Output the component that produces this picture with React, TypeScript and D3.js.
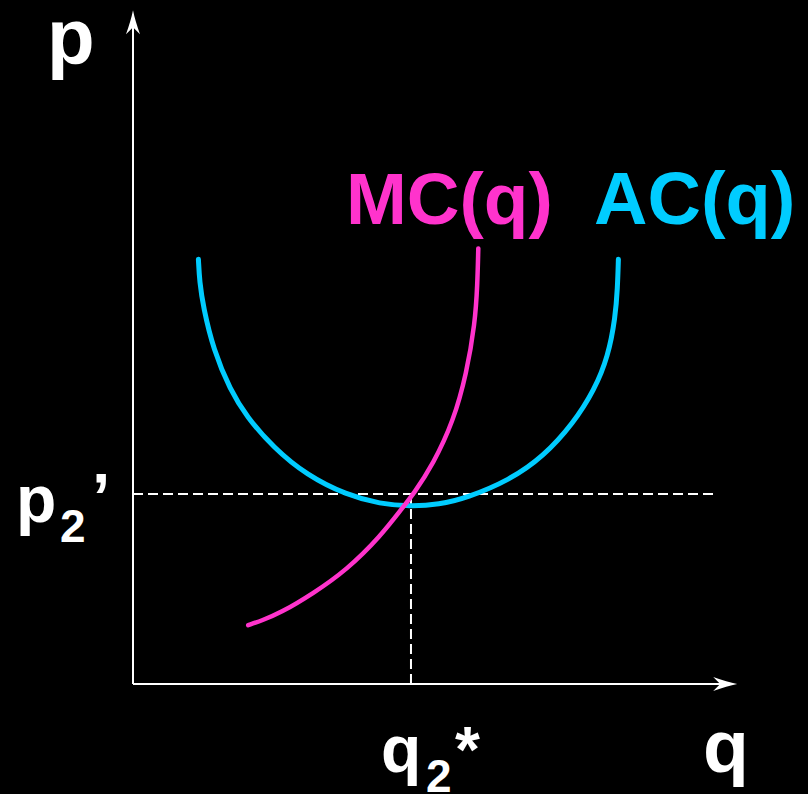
import React from "react";
import * as d3 from "d3";

// Data (in chart units: q and p on 0..100 scale)
const acQ = [10.9, 11.1, 11.7, 13.4, 16.2, 18.9, 23.4, 28.95, 35.6, 41.2, 46.2, 51.0, 55.6, 62.8, 68.4, 73.4, 76.9, 79.2, 80.4, 80.75, 80.9];
const acP = [70.8, 67.0, 62.9, 55.7, 49.0, 44.6, 39.4, 34.8, 31.5, 30.0, 29.6, 29.9, 31.0, 34.0, 37.9, 43.45, 49.0, 54.6, 61.2, 66.0, 70.8];
const mcQ = [19.2, 21.5, 24.5, 30.05, 35.6, 41.2, 45.05, 46.7, 50.05, 53.4, 55.6, 57.0, 57.4, 57.55];
const mcP = [9.8, 10.6, 11.8, 15.1, 19.0, 24.55, 29.55, 31.6, 36.7, 43.8, 51.8, 60.1, 66.5, 72.6];
const pStar = 31.67;
const qStar = 46.33;
const qAxisMax = 100.7;
const pAxisMax = 112.3;
const dashEndQ = 97.2;
const labels = { mc: "MC(q)", ac: "AC(q)", p: "p", q: "q" };

const W = 808;
const H = 794;
const FONT = "'Liberation Sans', Arial, Helvetica, sans-serif";
const CYAN = "#00CCFF";
const MAGENTA = "#FF33CC";

export default function App() {
  const x = d3.scaleLinear().domain([0, 100]).range([133, 733]);
  const y = d3.scaleLinear().domain([0, 100]).range([684, 84]);

  const line = d3
    .line<[number, number]>()
    .x((d) => x(d[0]))
    .y((d) => y(d[1]))
    .curve(d3.curveBasis);

  const acPts = acQ.map((q, i) => [q, acP[i]] as [number, number]);
  const mcPts = mcQ.map((q, i) => [q, mcP[i]] as [number, number]);

  const x0 = x(0);
  const y0 = y(0);
  const xTip = x(qAxisMax);
  const yTip = y(pAxisMax);

  const L = 24, Hw = 7, In = 17;
  const arrowRight = `M${xTip},${y0} Q${xTip - 10},${y0 - 2} ${xTip - L},${y0 - Hw} L${xTip - In},${y0} L${xTip - L},${y0 + Hw} Q${xTip - 10},${y0 + 2} ${xTip},${y0} Z`;
  const arrowUp = `M${x0},${yTip} Q${x0 - 2},${yTip + 10} ${x0 - Hw},${yTip + L} L${x0},${yTip + In} L${x0 + Hw},${yTip + L} Q${x0 + 2},${yTip + 10} ${x0},${yTip} Z`;

  return (
    <svg
      width={W}
      height={H}
      style={{ position: "absolute", left: 0, top: 0, display: "block" }}
    >
      <rect x={0} y={0} width={W} height={H} fill="#000" />
      {/* axes */}
      <line x1={x0} y1={y0} x2={xTip - 8} y2={y0} stroke="#fff" strokeWidth={2} />
      <line x1={x0} y1={y0} x2={x0} y2={yTip + 8} stroke="#fff" strokeWidth={2} />
      <path d={arrowRight} fill="#fff" />
      <path d={arrowUp} fill="#fff" />

      {/* dashed guides */}
      <line
        x1={x(0)}
        y1={y(pStar)}
        x2={x(dashEndQ)}
        y2={y(pStar)}
        stroke="#fff"
        strokeWidth={2}
        strokeDasharray="10,5"
      />
      <line
        x1={x(qStar)}
        y1={y(pStar)}
        x2={x(qStar)}
        y2={y(0)}
        stroke="#fff"
        strokeWidth={2}
        strokeDasharray="10,5"
      />

      {/* curves */}
      <path d={line(acPts) || ""} fill="none" stroke={CYAN} strokeWidth={5} strokeLinecap="round" />
      <path d={line(mcPts) || ""} fill="none" stroke={MAGENTA} strokeWidth={4.5} strokeLinecap="round" />

      {/* labels */}
      <g fontFamily={FONT} fontWeight="bold">
        <text x={47} y={64} fontSize={78} fill="#fff">{labels.p}</text>
        <text x={703} y={772} fontSize={75} fill="#fff">{labels.q}</text>
        <text x={346} y={224} fontSize={73} fill={MAGENTA}>{labels.mc}</text>
        <text x={594} y={224} fontSize={74} fill={CYAN}>{labels.ac}</text>
        <text x={16} y={522} fontSize={66} fill="#fff">p</text>
        <text x={60} y={542} fontSize={46} fill="#fff">2</text>
        <text x={92} y={520} fontSize={66} fill="#fff">’</text>
        <text x={381} y={772} fontSize={66} fill="#fff">q</text>
        <text x={426} y={792} fontSize={46} fill="#fff">2</text>
        <text x={455} y={772} fontSize={64} fill="#fff">*</text>
      </g>
    </svg>
  );
}
